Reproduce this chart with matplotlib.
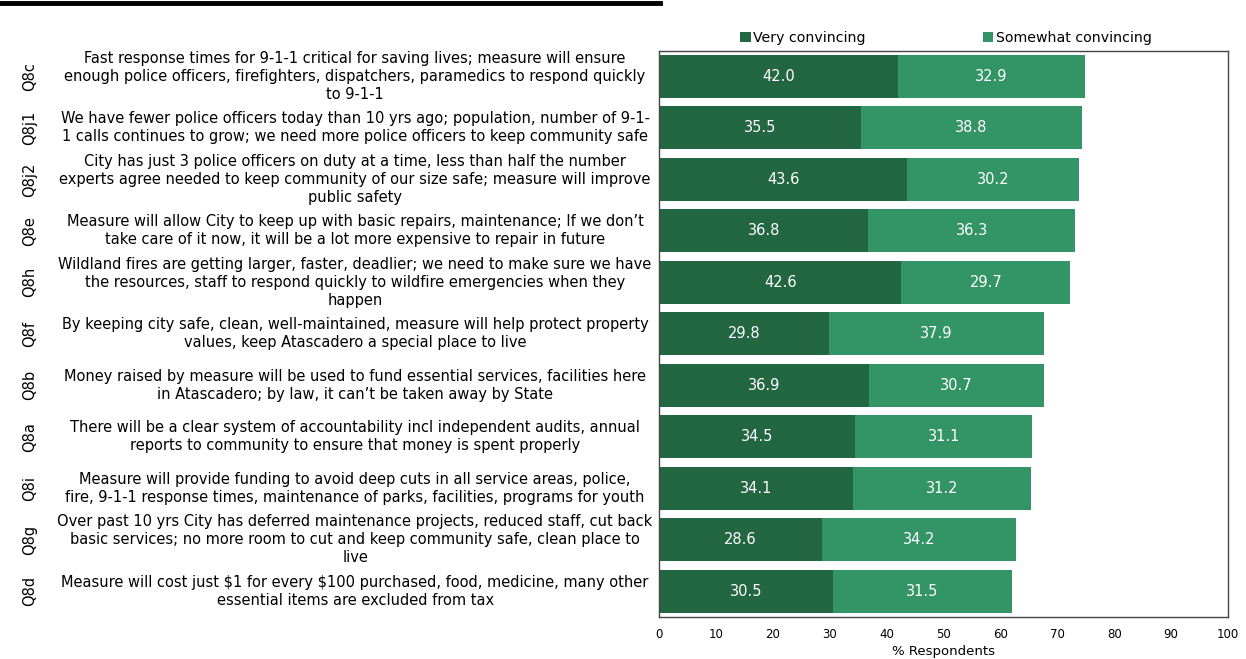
import matplotlib
matplotlib.use("Agg")
import matplotlib.pyplot as plt
import matplotlib.transforms as mtransforms

codes = ["Q8c", "Q8j1", "Q8j2", "Q8e", "Q8h", "Q8f", "Q8b", "Q8a", "Q8i", "Q8g", "Q8d"]
statements = [
    "Fast response times for 9-1-1 critical for saving lives; measure will ensure\nenough police officers, firefighters, dispatchers, paramedics to respond quickly\nto 9-1-1",
    "We have fewer police officers today than 10 yrs ago; population, number of 9-1-\n1 calls continues to grow; we need more police officers to keep community safe",
    "City has just 3 police officers on duty at a time, less than half the number\nexperts agree needed to keep community of our size safe; measure will improve\npublic safety",
    "Measure will allow City to keep up with basic repairs, maintenance; If we don\u2019t\ntake care of it now, it will be a lot more expensive to repair in future",
    "Wildland fires are getting larger, faster, deadlier; we need to make sure we have\nthe resources, staff to respond quickly to wildfire emergencies when they\nhappen",
    "By keeping city safe, clean, well-maintained, measure will help protect property\nvalues, keep Atascadero a special place to live",
    "Money raised by measure will be used to fund essential services, facilities here\nin Atascadero; by law, it can\u2019t be taken away by State",
    "There will be a clear system of accountability incl independent audits, annual\nreports to community to ensure that money is spent properly",
    "Measure will provide funding to avoid deep cuts in all service areas, police,\nfire, 9-1-1 response times, maintenance of parks, facilities, programs for youth",
    "Over past 10 yrs City has deferred maintenance projects, reduced staff, cut back\nbasic services; no more room to cut and keep community safe, clean place to\nlive",
    "Measure will cost just \\$1 for every \\$100 purchased, food, medicine, many other\nessential items are excluded from tax",
]
very = [42.0, 35.5, 43.6, 36.8, 42.6, 29.8, 36.9, 34.5, 34.1, 28.6, 30.5]
somewhat = [32.9, 38.8, 30.2, 36.3, 29.7, 37.9, 30.7, 31.1, 31.2, 34.2, 31.5]
series_names = ["Very convincing", "Somewhat convincing"]
xticks = [0, 10, 20, 30, 40, 50, 60, 70, 80, 90, 100]

dark = "#236642"
light = "#339565"

fig = plt.figure(figsize=(12.46, 6.59), dpi=100)
ax = fig.add_axes([0.5289, 0.0637, 0.4567, 0.8594])

ypos = list(range(len(codes)))
b1 = ax.barh(ypos, very, height=0.835, color=dark, label=series_names[0])
b2 = ax.barh(ypos, somewhat, left=very, height=0.835, color=light, label=series_names[1])

for vals, lefts in ((very, [0] * len(very)), (somewhat, very)):
    for y, v, l in zip(ypos, vals, lefts):
        ax.text(l + v / 2, y, f"{v:.1f}", ha="center", va="center",
                color="white", fontsize=10.5)

ax.set_xlim(0, 100)
ax.set_ylim(len(codes) - 0.5, -0.5)
ax.set_xticks(xticks)
ax.set_xticklabels([str(t) for t in xticks], fontsize=8.5)
ax.tick_params(axis="x", length=0, pad=8)
ax.set_yticks([])
ax.set_xlabel("% Respondents", fontsize=9.5, labelpad=3)
for s in ax.spines.values():
    s.set_color("#444444")
    s.set_linewidth(1.0)

# statement text and question codes to the left of the plot
trans = mtransforms.blended_transform_factory(fig.transFigure, ax.transData)
for y, code, txt in zip(ypos, codes, statements):
    ax.text(0.285, y, txt, transform=trans, ha="center", va="center",
            multialignment="center", fontsize=10.5, linespacing=1.24,
            clip_on=False)
    ax.text(0.024, y, code, transform=trans, ha="center", va="center",
            rotation=90, fontsize=10.5, clip_on=False)

fig.legend(handles=[b1, b2], labels=series_names, loc="center",
           bbox_to_anchor=(0.759, 0.942), ncol=2, frameon=False,
           fontsize=10.2, handlelength=0.75, handleheight=0.75,
           handletextpad=0.15, columnspacing=8.3)

# heavy rule at the top-left
fig.add_artist(plt.Line2D([0, 0.53], [0.995, 0.995], color="black",
                          linewidth=3.5, transform=fig.transFigure))

fig.savefig("out.png", dpi=100)
